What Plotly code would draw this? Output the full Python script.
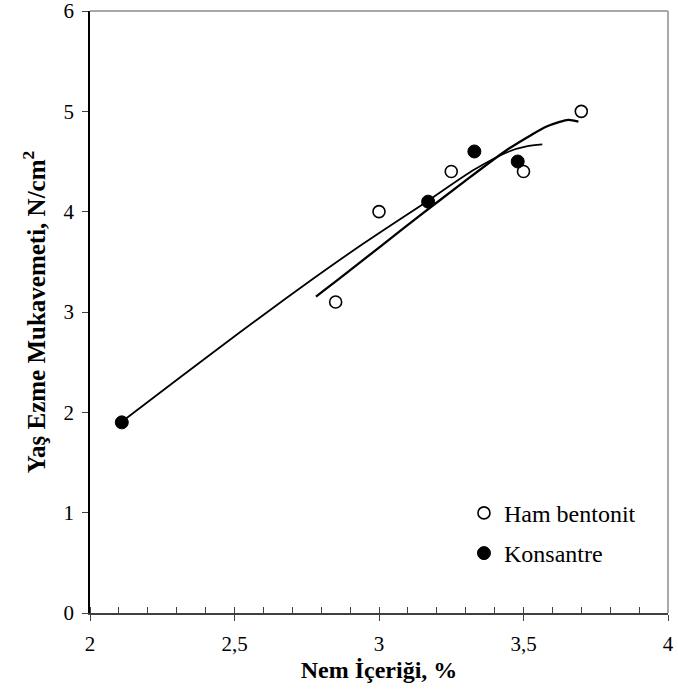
import plotly.graph_objects as go

# Data points
ham_x = [2.85, 3.00, 3.25, 3.50, 3.70]
ham_y = [3.1, 4.0, 4.4, 4.4, 5.0]
kon_x = [2.11, 3.17, 3.33, 3.48]
kon_y = [1.9, 4.1, 4.6, 4.5]

# Trend curves
ham_fit_x = [2.782, 2.865, 3.01, 3.15, 3.28, 3.44, 3.53, 3.58, 3.62, 3.655, 3.69]
ham_fit_y = [3.154, 3.337, 3.665, 3.98, 4.267, 4.61, 4.77, 4.849, 4.89, 4.915, 4.898]
kon_fit_x = [2.11, 2.31, 2.52, 2.73, 2.95, 3.17, 3.33, 3.45, 3.51, 3.565]
kon_fit_y = [1.907, 2.345, 2.80, 3.245, 3.69, 4.11, 4.42, 4.60, 4.65, 4.67]

x_ticks = [2, 2.5, 3, 3.5, 4]
x_tick_labels = ["2", "2,5", "3", "3,5", "4"]
y_ticks = [0, 1, 2, 3, 4, 5, 6]

FONT = "Liberation Serif"

fig = go.Figure()
fig.add_trace(go.Scatter(x=ham_fit_x, y=ham_fit_y, mode="lines", showlegend=False,
                         line=dict(color="black", width=2.3, shape="spline", smoothing=0.8),
                         hoverinfo="skip"))
fig.add_trace(go.Scatter(x=kon_fit_x, y=kon_fit_y, mode="lines", showlegend=False,
                         line=dict(color="black", width=1.8, shape="spline", smoothing=0.8),
                         hoverinfo="skip"))
fig.add_trace(go.Scatter(x=ham_x, y=ham_y, mode="markers", name="Ham bentonit",
                         legendgroup="a",
                         marker=dict(symbol="circle", size=12, color="white",
                                     line=dict(color="black", width=1.6))))
fig.add_trace(go.Scatter(x=kon_x, y=kon_y, mode="markers", name="Konsantre",
                         legendgroup="b",
                         marker=dict(symbol="circle", size=13, color="black",
                                     line=dict(color="black", width=1))))

# top and right borders in light gray
fig.add_shape(type="line", xref="paper", yref="paper", x0=0, x1=1, y0=1, y1=1,
              line=dict(color="#a8a8a8", width=2))
fig.add_shape(type="line", xref="paper", yref="paper", x0=1, x1=1, y0=0, y1=1,
              line=dict(color="#a8a8a8", width=2))

fig.update_layout(
    width=678, height=695,
    margin=dict(l=90, r=10, t=11, b=82),
    paper_bgcolor="white", plot_bgcolor="white",
    font=dict(family=FONT, color="black", size=21),
    legend=dict(x=0.647, y=0.203, xanchor="left", yanchor="top",
                font=dict(family=FONT, size=24, color="black"),
                bgcolor="rgba(0,0,0,0)", itemwidth=30, tracegroupgap=6),
    xaxis=dict(range=[2, 4], tickvals=x_ticks, ticktext=x_tick_labels,
               automargin=False, ticklabeloverflow="allow",
               showgrid=False, zeroline=False, showline=True, linecolor="#404040",
               linewidth=1.5, ticks="outside", ticklen=6, tickcolor="#404040",
               tickwidth=1.2, ticklabelstandoff=5,
               minor=dict(dtick=0.1, ticks="inside", ticklen=6, tickcolor="#404040",
                          tickwidth=1.2, showgrid=False),
               tickfont=dict(family=FONT, size=21, color="black"),
               title=dict(text="<b>Nem İçeriği, %</b>", standoff=6,
                          font=dict(family=FONT, size=24, color="black"))),
    yaxis=dict(range=[0, 6], tickvals=y_ticks, showgrid=False, zeroline=False,
               automargin=False, ticklabeloverflow="allow",
               showline=True, linecolor="black", linewidth=1.5,
               ticks="outside", ticklen=6, tickcolor="#404040", tickwidth=1.2,
               ticklabelstandoff=4,
               tickfont=dict(family=FONT, size=21, color="black"),
               title=dict(text="<b>Yaş Ezme Mukavemeti, N/cm<sup>2</sup></b>", standoff=11,
                          font=dict(family=FONT, size=25, color="black"))),
)

# remove the page's default body margin so the figure fills the window exactly
fig.write_html("out.html", config={"displayModeBar": False},
               post_script="document.body.style.margin='0';")
